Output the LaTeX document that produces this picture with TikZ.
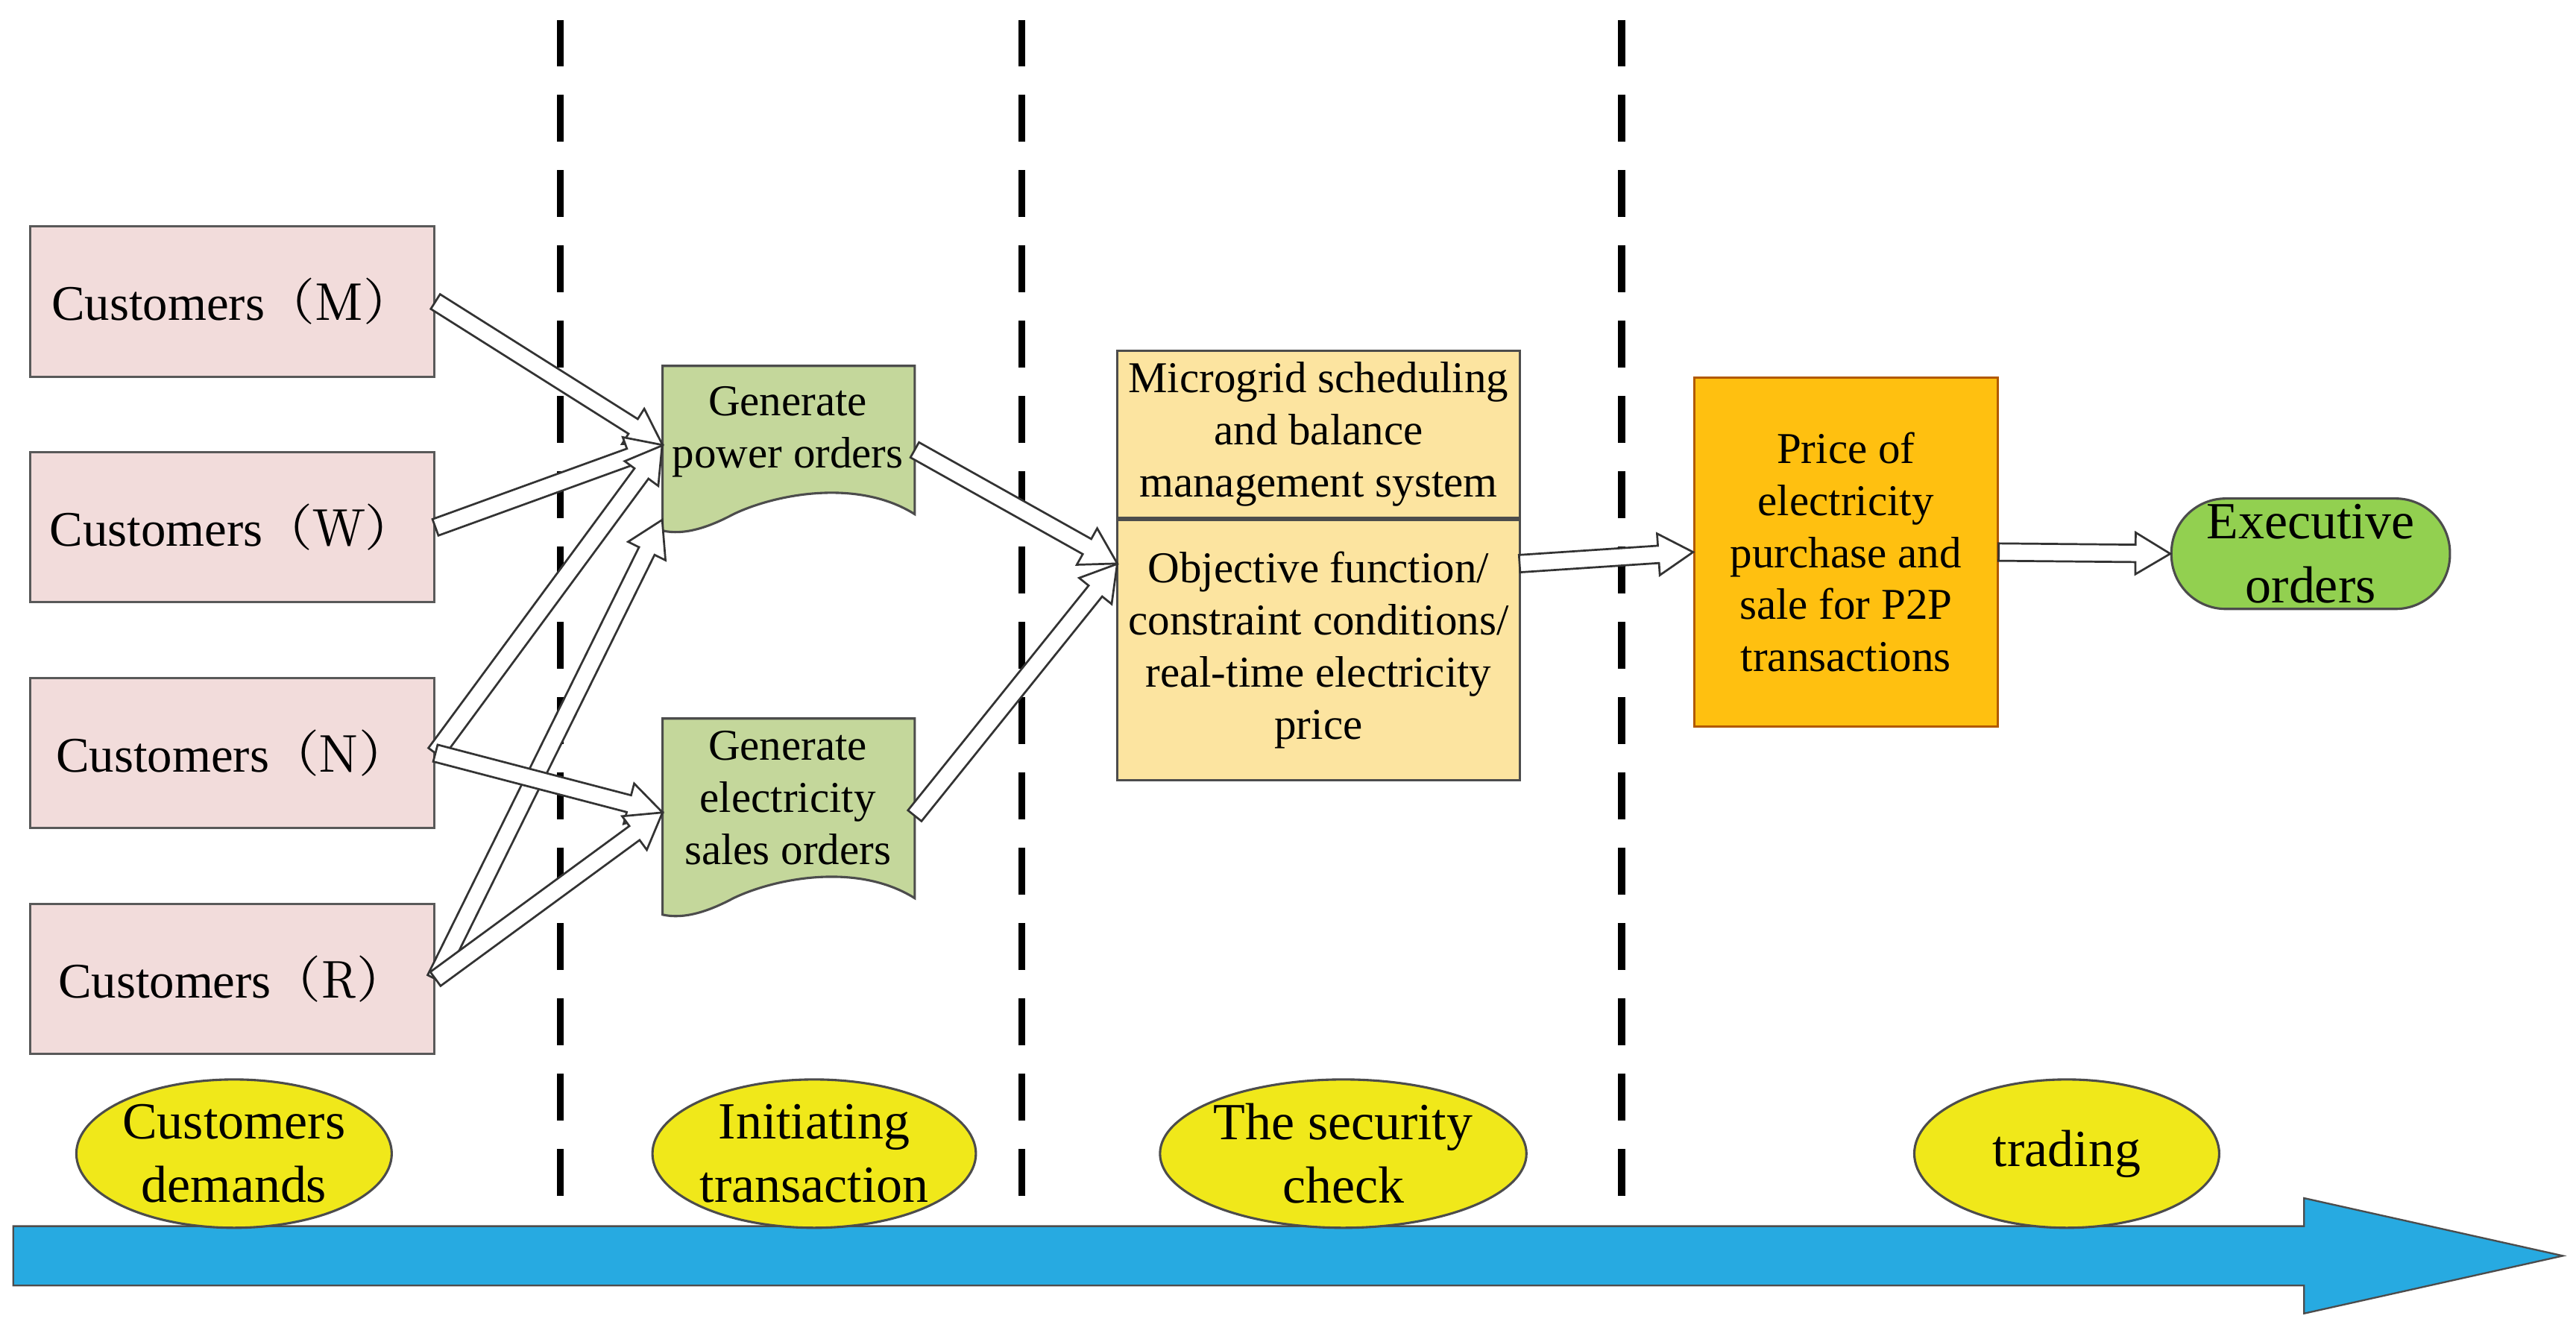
\documentclass[tikz,border=0pt]{standalone}
\usepackage{fontspec}
\setmainfont{Liberation Serif}
\newfontfamily\cjk{Noto Serif CJK SC}[BoldFont=*]
\usetikzlibrary{positioning,calc,shapes.geometric}
\definecolor{custfill}{HTML}{F2DCDB}
\definecolor{docfill}{HTML}{C4D79B}
\definecolor{sysfill}{HTML}{FCE4A0}
\definecolor{pricefill}{HTML}{FFC010}
\definecolor{execfill}{HTML}{92D050}
\definecolor{stagefill}{HTML}{F0E81A}
\definecolor{timefill}{HTML}{27AAE1}
\newcommand{\blockarr}[2]{%
  \draw[blk] let \p1=($(#2)-(#1)$), \n1={atan2(\y1,\x1)}, \n2={veclen(\x1,\y1)} in
    [shift={(#1)}, rotate=\n1] (0pt,-1.5pt) -- (\n2-6pt,-1.5pt) -- (\n2-6pt,-3.6pt)
    -- (\n2,0pt) -- (\n2-6pt,3.6pt) -- (\n2-6pt,1.5pt) -- (0pt,1.5pt) -- cycle;}
\begin{document}
\begin{tikzpicture}[x=0.1mm,y=-0.1mm,
        cust/.style={rectangle, draw=gray!70!black, fill=custfill, minimum width=24.5mm,
            minimum height=9.1mm, inner sep=0pt, font=\fontsize{8.6}{10}\selectfont},
        stage/.style={ellipse, draw=gray!60!black, fill=stagefill, minimum width=18.5mm,
            minimum height=9mm, align=center, inner sep=0pt, font=\fontsize{9}{11}\selectfont},
        doc/.style={draw=gray!60!black, fill=docfill},
        txt/.style={align=center, inner sep=0pt, font=\fontsize{7.6}{9}\selectfont},
        blk/.style={draw=black!80, fill=white, line width=0.35pt},
        sep/.style={black, line width=1.2pt, dash pattern=on 8pt off 5pt}
    ]
    \useasboundingbox (0,0) rectangle (1563,814);
    % time line
    \fill[timefill, draw=gray!60!black, line width=0.3pt] (8,744) -- (1398,744) -- (1398,727) -- (1555,762)
        -- (1398,797) -- (1398,780) -- (8,780) -- cycle;
    % stage separators
    \foreach \x in {340,620,984}
        \draw[sep] (\x,12) -- (\x,735);
    % customers
    \node[cust] (cm) at (141,183) {Customers\cjk{（}M\cjk{）}};
    \node[cust] (cw) at (141,320) {Customers\cjk{（}W\cjk{）}};
    \node[cust] (cn) at (141,457) {Customers\cjk{（}N\cjk{）}};
    \node[cust] (cr) at (141,594) {Customers\cjk{（}R\cjk{）}};
    % order documents
    \draw[doc] (402,222) -- (555,222) -- (555,312) .. controls (520,290) and (470,300) .. (445,312)
        .. controls (430,320) and (415,325) .. (402,322) -- cycle;
    \node[txt] (power) at (478,262) {Generate\\power orders};
    \draw[doc] (402,436) -- (555,436) -- (555,545) .. controls (520,523) and (470,533) .. (445,545)
        .. controls (430,553) and (415,558) .. (402,555) -- cycle;
    \node[txt] (sales) at (478,484) {Generate\\electricity\\sales orders};
    \coordinate (powerin) at (402,270);
    \coordinate (powerlow) at (402,315);
    \coordinate (powerout) at (555,273);
    \coordinate (salesin) at (402,493);
    \coordinate (salesout) at (555,495);
    % security check
    \node[rectangle, draw=gray!60!black, fill=sysfill, minimum width=24.4mm, minimum height=10.1mm,
        txt] (sys) at (800,263.5) {Microgrid scheduling\\and balance\\management system};
    \node[rectangle, draw=gray!60!black, fill=sysfill, minimum width=24.4mm, minimum height=15.8mm,
        txt, below=0pt of sys] (obj) {Objective function/\\constraint conditions/\\real-time electricity\\price};
    \coordinate (sysin) at (678,342);
    \coordinate (sysout) at (922,342);
    % trading
    \node[rectangle, draw=orange!70!black, fill=pricefill, minimum width=18.4mm, minimum height=21.2mm,
        txt] (price) at (1120,335) {Price of\\electricity\\purchase and\\sale for P2P\\transactions};
    \node[rectangle, rounded corners=3.3mm, draw=gray!60!black, fill=execfill, minimum width=16.9mm,
        minimum height=6.7mm, inner sep=0pt, align=center, font=\fontsize{9}{11}\selectfont] (exec) at (1402,336) {Executive\\orders};
    % stages
    \node[stage] (s1) at (142,700) {Customers\\demands};
    \node[stage] (s2) at (494,700) {Initiating\\transaction};
    \node[stage, minimum width=21.5mm] (s3) at (815,700) {The security\\check};
    \node[stage] (s4) at (1254,700) {trading};
    % flows
    \blockarr{cm.east}{powerin}
    \blockarr{cw.east}{powerin}
    \blockarr{cn.east}{powerin}
    \blockarr{cr.east}{powerlow}
    \blockarr{cn.east}{salesin}
    \blockarr{cr.east}{salesin}
    \blockarr{powerout}{sysin}
    \blockarr{salesout}{sysin}
    \blockarr{sysout}{price.west}
    \blockarr{price.east}{exec.west}
\end{tikzpicture}
\end{document}
